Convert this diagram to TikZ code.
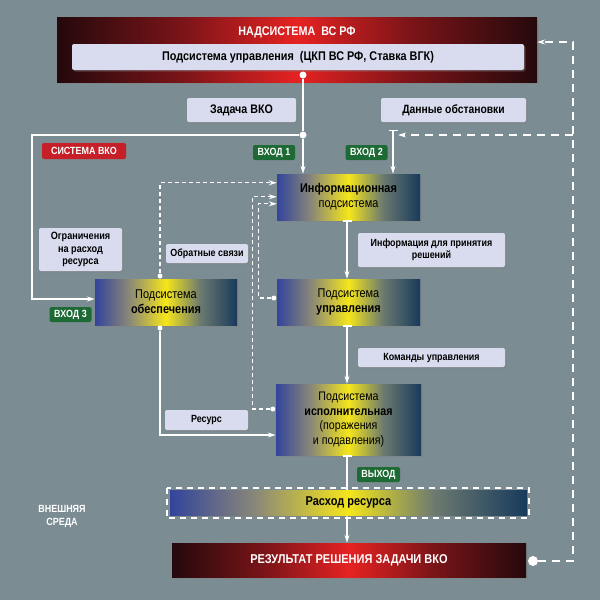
\documentclass[tikz,border=0pt]{standalone}
\usepackage{fontspec}
\setmainfont{Liberation Sans}[FakeStretch=0.86]
\usetikzlibrary{arrows.meta,shadows,positioning}

\definecolor{bgcol}{HTML}{7B8C92}
\definecolor{labfill}{HTML}{D9DCEE}
\definecolor{grnfill}{HTML}{1E6A34}
\definecolor{redfill}{HTML}{C61F27}
\definecolor{boxblue}{HTML}{33449C}
\definecolor{boxnavy}{HTML}{173A5C}
\definecolor{boxyel}{HTML}{F5E61A}
\definecolor{boxmid}{HTML}{8A8878}
\definecolor{boxmidr}{HTML}{6C7A70}
\definecolor{redlo}{HTML}{24090C}
\definecolor{redmid}{HTML}{7A1418}
\definecolor{redhi}{HTML}{E62222}

\pgfdeclarehorizontalshading{subsys}{100bp}{color(0bp)=(boxblue); color(25bp)=(boxblue);
  color(37bp)=(boxmid); color(50bp)=(boxyel); color(62bp)=(boxmidr); color(75bp)=(boxnavy); color(100bp)=(boxnavy)}
\pgfdeclarehorizontalshading{redbar}{100bp}{color(0bp)=(redlo); color(25bp)=(redlo);
  color(38bp)=(redmid); color(50bp)=(redhi); color(62bp)=(redmid); color(75bp)=(redlo); color(100bp)=(redlo)}

\def\boxfont{\fontsize{12.7}{15}\selectfont}
\def\tagfont{\bfseries\fontsize{10.4}{12.6}\selectfont}
\tikzset{
  subbox/.style={shading=subsys, minimum width=143pt, minimum height=46pt, align=center,
    font=\boxfont, inner sep=0pt, drop shadow={shadow xshift=2pt, shadow yshift=-2pt, opacity=.45}},
  redbox/.style={shading=redbar, inner sep=0pt, drop shadow={shadow xshift=2pt, shadow yshift=-2pt, opacity=.45}},
  tag/.style={fill=labfill, rounded corners=2pt, align=center, font=\tagfont, inner sep=0pt,
    drop shadow={shadow xshift=1.5pt, shadow yshift=-1.5pt, opacity=.4}},
  gtag/.style={fill=grnfill, text=white, rounded corners=2pt, font=\tagfont, inner sep=0pt,
    minimum width=42pt, minimum height=15pt},
  dot/.style={circle, fill=white, inner sep=0pt, minimum size=7pt},
  sdot/.style={circle, fill=white, inner sep=0pt, minimum size=5pt}
}
\tikzstyle{edge}=[draw=white, line width=1.4pt]
\tikzstyle{fb}=[draw=white, line width=1.2pt, dash pattern=on 4pt off 3pt]
\tikzstyle{fbbig}=[draw=white, line width=2pt, dash pattern=on 8pt off 6pt]
\tikzstyle{tip}=[-{Stealth[length=8pt,width=5pt]}]
\tikzstyle{ttip}=[{Bar[width=9pt]}-{Stealth[length=8pt,width=5pt]}]

\begin{document}
\begin{tikzpicture}[x=1pt,y=-1pt]
  \fill[bgcol] (0,0) rectangle (600,600);
  \useasboundingbox (0,0) rectangle (600,600);

  % upper system
  \node[redbox, minimum width=480pt, minimum height=65pt] (nad) at (297,49.5) {};
  \node[text=white, font=\bfseries\fontsize{12.5}{14}\selectfont] (nadtitle) at (297,32) {НАДСИСТЕМА\ \ ВС РФ};
  \node[tag, minimum width=452pt, minimum height=26pt, font=\bfseries\fontsize{12.6}{14}\selectfont] (podupr) at (298,57)
    {Подсистема управления\ \ (ЦКП ВС РФ, Ставка ВГК)};

  \node[tag, minimum width=109pt, minimum height=24pt, font=\bfseries\fontsize{12.4}{14}\selectfont] (zadacha) at (241.5,110) {Задача ВКО};
  \node[tag, minimum width=145pt, minimum height=24pt, font=\bfseries\fontsize{12}{14}\selectfont] (dannye) at (453.5,110) {Данные обстановки};

  \node[fill=redfill, text=white, rounded corners=2pt, font=\tagfont, inner sep=0pt,
    minimum width=84pt, minimum height=16pt] (sysvko) at (84,151) {СИСТЕМА ВКО};
  \node[gtag] (vhod1) at (274,152.5) {ВХОД 1};
  \node[gtag] (vhod2) at (366.5,152.5) {ВХОД 2};
  \node[gtag] (vhod3) at (70.5,314.5) {ВХОД 3};

  % subsystems
  \node[subbox] (info) at (348.5,197) {\textbf{Информационная}\\подсистема};
  \node[subbox] (upr) at (348.5,302) {Подсистема\\\textbf{управления}};
  \node[subbox, minimum width=142pt] (obesp) at (166,302) {Подсистема\\\textbf{обеспечения}};
  \node[subbox, minimum width=145pt, minimum height=71pt, font=\fontsize{12.4}{14.8}\selectfont] (isp) at (348.5,419.5)
    {Подсистема\\\textbf{исполнительная}\\(поражения\\и подавления)};

  \node[tag, minimum width=147pt, minimum height=34pt] (infolab) at (431.5,250) {Информация для принятия\\решений};
  \node[tag, minimum width=147pt, minimum height=19pt] (komandy) at (431.5,357.5) {Команды управления};
  \node[tag, minimum width=83pt, minimum height=43pt, font=\bfseries\fontsize{10.6}{12.4}\selectfont] (ogran) at (80.5,249.5) {Ограничения\\на расход\\ресурса};
  \node[tag, minimum width=82pt, minimum height=19pt] (obrsv) at (207,253.5) {Обратные связи};
  \node[tag, minimum width=83pt, minimum height=20pt] (resurs) at (206.5,420) {Ресурс};
  \node[gtag, minimum width=43pt] (vyhod) at (378.5,474.5) {ВЫХОД};

  \node[redbox, minimum width=354pt, minimum height=34pt, text=white, font=\bfseries\fontsize{12.8}{15}\selectfont] (result)
    at (349,560) {РЕЗУЛЬТАТ РЕШЕНИЯ ЗАДАЧИ ВКО};

  \node[text=white, align=center, font=\bfseries\fontsize{10.4}{13}\selectfont] (sreda) at (62,516.5) {ВНЕШНЯЯ\\СРЕДА};

  % main links
  \node[dot] (d1) at (303,75) {};
  \node[dot] (d2) at (303,135) {};
  \coordinate (c3) at (32,299);
  \draw[edge] (d1) -- (d2);
  \draw[edge,tip] (d2) -- (d2 |- info.north);
  \draw[edge,tip] (d2) -| (c3) -- (c3 -| obesp.west);
  \coordinate (t2) at (393,130);
  \draw[edge,ttip] (t2) -- (t2 |- info.north);
  \draw[edge,ttip] ([xshift=-1.5pt]info.south) -- ([xshift=-1.5pt]upr.north);
  \draw[edge,ttip] ([xshift=-1.5pt]upr.south) -- ([xshift=-1.5pt]isp.north);
  \draw[edge,ttip] ([xshift=-1.5pt]isp.south) -- ([xshift=-2pt]result.north);

  \node[shading=subsys, minimum width=357pt, minimum height=25pt, inner sep=0pt,
    font=\bfseries\fontsize{12.8}{15}\selectfont,
    drop shadow={shadow xshift=2pt, shadow yshift=-2pt, opacity=.45}] (rashod) at (348.5,502.5) {Расход ресурса};
  \draw[white, line width=1.5pt, dash pattern=on 6pt off 5pt]
    ([shift={(-3,-2)}]rashod.north west) rectangle ([shift={(2,3)}]rashod.south east);

  % resource
  \node[sdot] (obtop) at (160,276) {};
  \node[sdot] (obbot) at (160,328) {};
  \draw[edge,tip] (obbot) |- ([yshift=-15.5pt]isp.west);

  % feedback
  \node[sdot] (uprdot) at ([xshift=-3pt,yshift=4pt]upr.west) {};
  \node[sdot] (ispdot) at ([xshift=-3pt,yshift=10.5pt]isp.west) {};
  \draw[fb,tip] (obtop) |- ([yshift=-9pt]info.north west);
  \draw[fb,tip] (ispdot) -- ++(-20,0) |- ([yshift=-23pt]info.north west);
  \draw[fb,tip] (uprdot) -- ++(-15,0) |- ([yshift=-30pt]info.north west);

  % external feedback
  \node[dot, minimum size=10pt] (rdot) at (533,561) {};
  \coordinate (fbr) at (573,42);
  \coordinate (in2) at (398,135);
  \draw[fbbig,tip] (rdot) -| (fbr) -- (fbr -| nad.east);
  \draw[fbbig,tip] (in2 -| fbr) -- (in2);
\end{tikzpicture}
\end{document}
